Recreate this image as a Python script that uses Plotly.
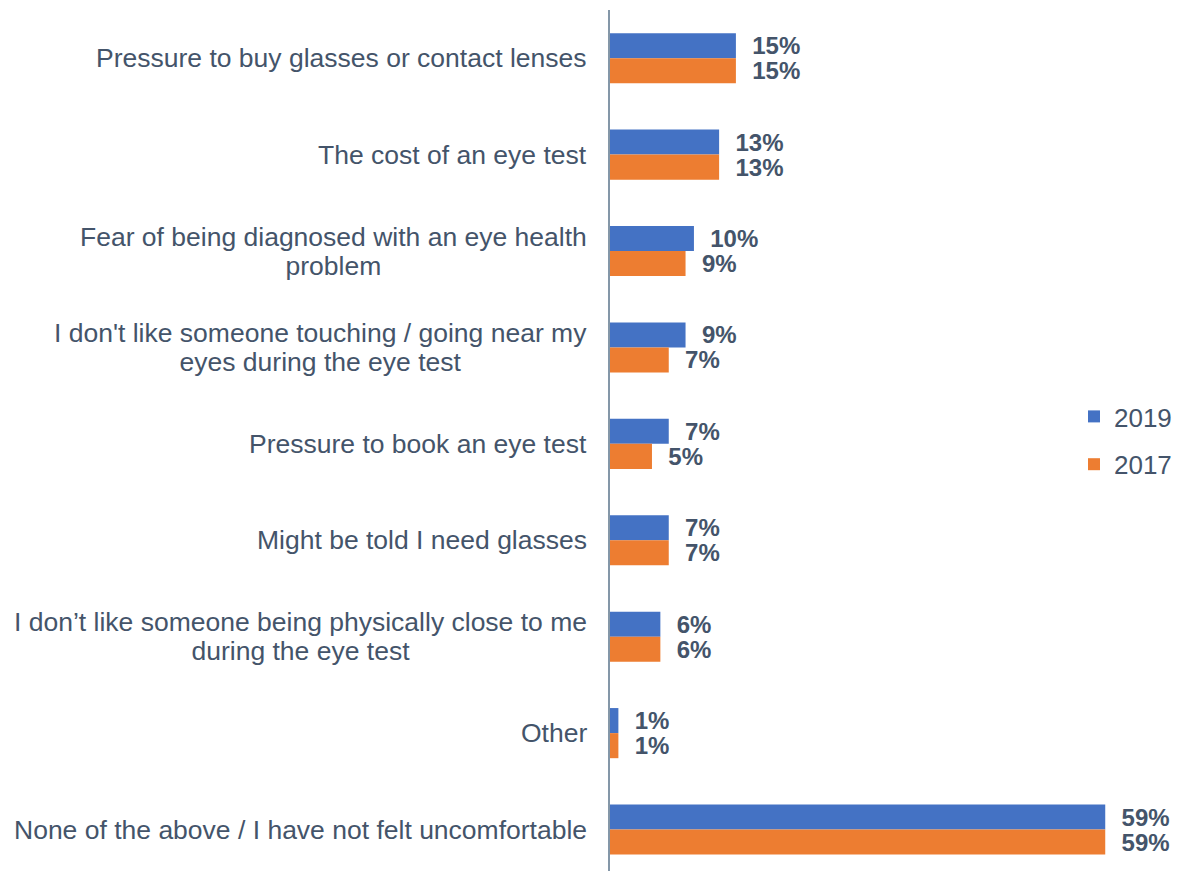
import plotly.graph_objects as go

categories = [
    "Pressure to buy glasses or contact lenses",
    "The cost of an eye test",
    "Fear of being diagnosed with an eye health<br>problem",
    "I don't like someone touching / going near my<br>eyes during the eye test",
    "Pressure to book an eye test",
    "Might be told I need glasses",
    "I don\u2019t like someone being physically close to me<br>during the eye test",
    "Other",
    "None of the above / I have not felt uncomfortable",
]
values_2019 = [15, 13, 10, 9, 7, 7, 6, 1, 59]
values_2017 = [15, 13, 9, 7, 5, 7, 6, 1, 59]
series_names = ["2019", "2017"]

TEXT = "#44546A"
FONT = "Liberation Sans, Arial, sans-serif"
colors = ["#4472C4", "#ED7D31"]

fig = go.Figure()
for name, vals, col in zip(series_names, [values_2019, values_2017], colors):
    fig.add_trace(go.Bar(
        y=categories, x=vals, orientation="h", name=name,
        marker=dict(color=col, line=dict(width=0)),
        text=["\u00a0\u00a0" + f"{v}%" for v in vals],
        textposition="outside", cliponaxis=False, constraintext="none",
        textfont=dict(family=FONT, size=24, color=TEXT, weight="bold"),
        legendgroup=name,
        hoverinfo="skip",
    ))

for c in categories:
    lines = c.split("<br>")
    txt = "<br>".join(f'<span style="font-size:26.5px">{ln}</span>' for ln in lines)
    fig.add_annotation(
        x=0, xref="paper", y=c, yref="y", text=txt, showarrow=False,
        xanchor="right", yanchor="middle", align="center", xshift=-21,
        font=dict(family=FONT, size=22.3, color=TEXT),
    )

fig.update_layout(
    width=1172, height=865,
    margin=dict(l=602, r=16, t=2, b=2),
    paper_bgcolor="white", plot_bgcolor="white",
    barmode="group", bargap=0.48, bargroupgap=0,
    showlegend=True,
    legend=dict(
        x=0.8375, y=0.5, xanchor="left", yanchor="middle",
        font=dict(family=FONT, size=26, color=TEXT),
        traceorder="grouped", tracegroupgap=11,
        bgcolor="rgba(0,0,0,0)",
    ),
    xaxis=dict(range=[0, 66], showgrid=False, zeroline=False,
               showticklabels=False, showline=False),
    yaxis=dict(range=[8.43, -0.5], showgrid=False, zeroline=False,
               showticklabels=False, showline=True, linecolor="#8497A8",
               linewidth=2, ticks=""),
)

fig.write_html("out.html")
